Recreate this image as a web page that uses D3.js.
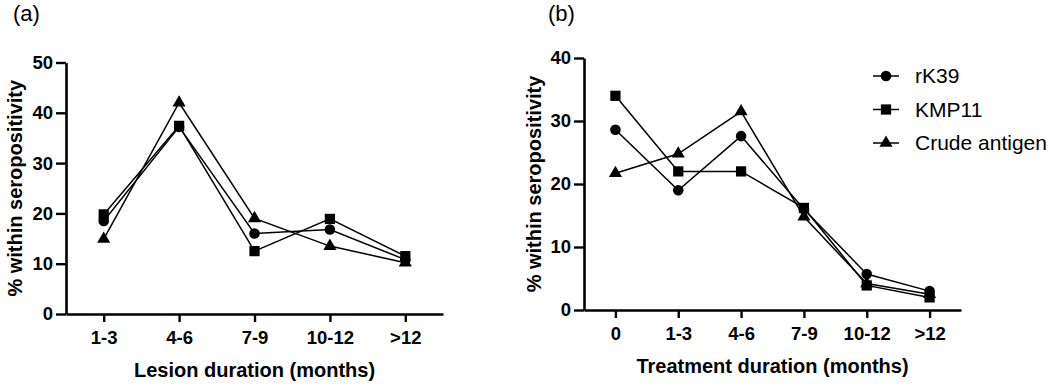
<!DOCTYPE html>
<html>
<head>
<meta charset="utf-8">
<script src="https://cdnjs.cloudflare.com/ajax/libs/d3/7.8.5/d3.min.js"></script>
<style>
  body { margin: 0; background: #fff; font-family: "Liberation Sans", Arial, Helvetica, sans-serif; }
  svg { display: block; }
</style>
</head>
<body>
<div id="chart"></div>
<script>
// ---- data ----
var seriesNames = ["rK39", "KMP11", "Crude antigen"];

var lesionCats = ["1-3", "4-6", "7-9", "10-12", ">12"];
var lesionRK39 = [18.5, 37.2, 16.0, 16.8, 10.8];
var lesionKMP11 = [19.8, 37.4, 12.5, 18.9, 11.5];
var lesionCrude = [14.9, 42.0, 19.0, 13.5, 10.2];
var lesionTicks = [0, 10, 20, 30, 40, 50];

var treatCats = ["0", "1-3", "4-6", "7-9", "10-12", ">12"];
var treatRK39 = [28.6, 19.0, 27.6, 16.0, 5.7, 3.0];
var treatKMP11 = [34.0, 22.0, 22.0, 16.2, 3.9, 2.0];
var treatCrude = [21.7, 24.8, 31.5, 14.8, 4.2, 2.5];
var treatTicks = [0, 10, 20, 30, 40];

var W = 1050, H = 384;
var svg = d3.select("#chart").append("svg")
  .attr("width", W).attr("height", H);

var shapes = [d3.symbolCircle, d3.symbolSquare, d3.symbolTriangle];
var sizes = [88, 105, 75];

function drawPanel(cfg) {
  var g = svg.append("g");

  var x = d3.scalePoint()
    .domain(cfg.cats)
    .range([cfg.left, cfg.right])
    .padding(0.5);

  var y = d3.scaleLinear()
    .domain([0, d3.max(cfg.ticks)])
    .range([cfg.bottom, cfg.top]);

  // axes
  var xAxis = g.append("g")
    .attr("transform", "translate(0," + cfg.bottom + ")")
    .call(d3.axisBottom(x).tickSize(8).tickSizeOuter(0));
  var yAxis = g.append("g")
    .attr("transform", "translate(" + cfg.left + ",0)")
    .call(d3.axisLeft(y).tickValues(cfg.ticks).tickSize(10).tickSizeOuter(0));

  [xAxis, yAxis].forEach(function(a) {
    a.select(".domain").attr("stroke", "#000").attr("stroke-width", 2.6);
    a.selectAll(".tick line").attr("stroke", "#000").attr("stroke-width", 2.4);
    a.selectAll(".tick text")
      .attr("fill", "#000")
      .style("font-family", "'Liberation Sans', Arial, sans-serif")
      .style("font-weight", "bold")
      .style("font-size", "18.5px");
  });
  xAxis.selectAll(".tick text").attr("y", 17);
  yAxis.selectAll(".tick text").attr("x", -13);

  // axis titles
  g.append("text")
    .attr("x", (cfg.left + cfg.right) / 2)
    .attr("y", cfg.xTitleY)
    .attr("text-anchor", "middle")
    .style("font-weight", "bold")
    .style("font-size", "20px")
    .text(cfg.xTitle);

  g.append("text")
    .attr("transform", "translate(" + cfg.yTitleX + "," + ((cfg.top + cfg.bottom) / 2) + ") rotate(-90)")
    .attr("text-anchor", "middle")
    .style("font-weight", "bold")
    .style("font-size", "20px")
    .text("% within seropositivity");

  // panel letter
  g.append("text")
    .attr("x", cfg.letterX)
    .attr("y", 21)
    .style("font-size", "22px")
    .text(cfg.letter);

  var line = d3.line()
    .x(function(d, i) { return x(cfg.cats[i]); })
    .y(function(d) { return y(d); });

  cfg.series.forEach(function(vals) {
    g.append("path")
      .datum(vals)
      .attr("d", line)
      .attr("fill", "none")
      .attr("stroke", "#000")
      .attr("stroke-width", 1.5);
  });

  // markers: circle, triangle, then square on top
  [0, 2, 1].forEach(function(si) {
    g.selectAll(null)
      .data(cfg.series[si])
      .enter().append("path")
      .attr("transform", function(d, i) {
        return "translate(" + x(cfg.cats[i]) + "," + y(d) + ")";
      })
      .attr("d", d3.symbol().type(shapes[si]).size(sizes[si]))
      .attr("fill", "#000");
  });
}

drawPanel({
  cats: lesionCats, ticks: lesionTicks,
  series: [lesionRK39, lesionKMP11, lesionCrude],
  left: 66, right: 443, top: 62.5, bottom: 314,
  xTitle: "Lesion duration (months)", xTitleY: 377, yTitleX: 22,
  letter: "(a)", letterX: 13
});

drawPanel({
  cats: treatCats, ticks: treatTicks,
  series: [treatRK39, treatKMP11, treatCrude],
  left: 584, right: 961, top: 58, bottom: 310,
  xTitle: "Treatment duration (months)", xTitleY: 373, yTitleX: 541,
  letter: "(b)", letterX: 548
});

// legend
var legend = svg.append("g");
seriesNames.forEach(function(name, i) {
  var ly = 76 + i * 33.5;
  legend.append("line")
    .attr("x1", 873).attr("x2", 899)
    .attr("y1", ly).attr("y2", ly)
    .attr("stroke", "#000").attr("stroke-width", 1.5);
  legend.append("path")
    .attr("transform", "translate(886," + ly + ")")
    .attr("d", d3.symbol().type(shapes[i]).size(sizes[i]))
    .attr("fill", "#000");
  legend.append("text")
    .attr("x", 915).attr("y", ly)
    .attr("dy", "0.35em")
    .style("font-size", "21px")
    .text(name);
});
</script>
</body>
</html>
